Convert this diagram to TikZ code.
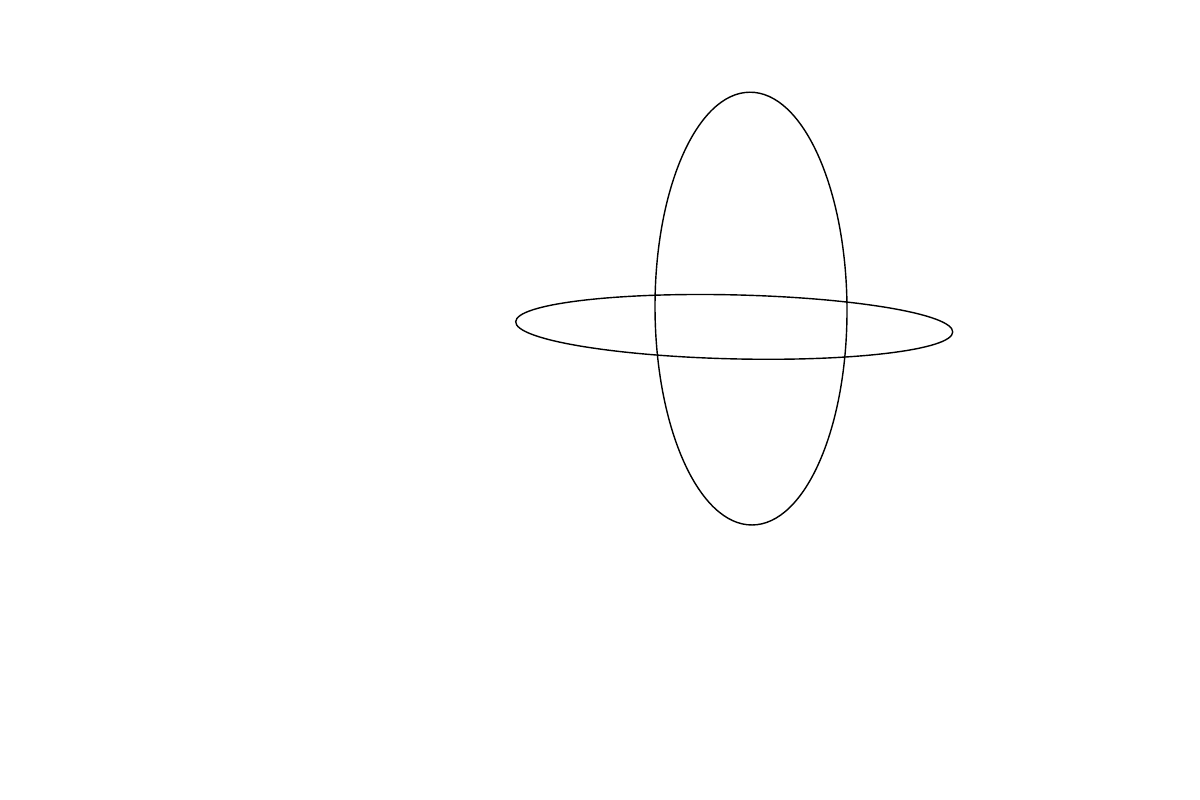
\documentclass[tikz,border=0pt]{standalone}
\begin{document}
\begin{tikzpicture}[x=0.02cm,y=0.02cm,line width=0.8pt]
\useasboundingbox (0,0) rectangle (1200,800);
\draw[rotate around={0.3:(751,491.4)}] (751,491.4) ellipse (96 and 216.4);
\draw[rotate around={-1.35:(734.2,473.1)}] (734.2,473.1) ellipse (218.6 and 32);
\end{tikzpicture}
\end{document}
